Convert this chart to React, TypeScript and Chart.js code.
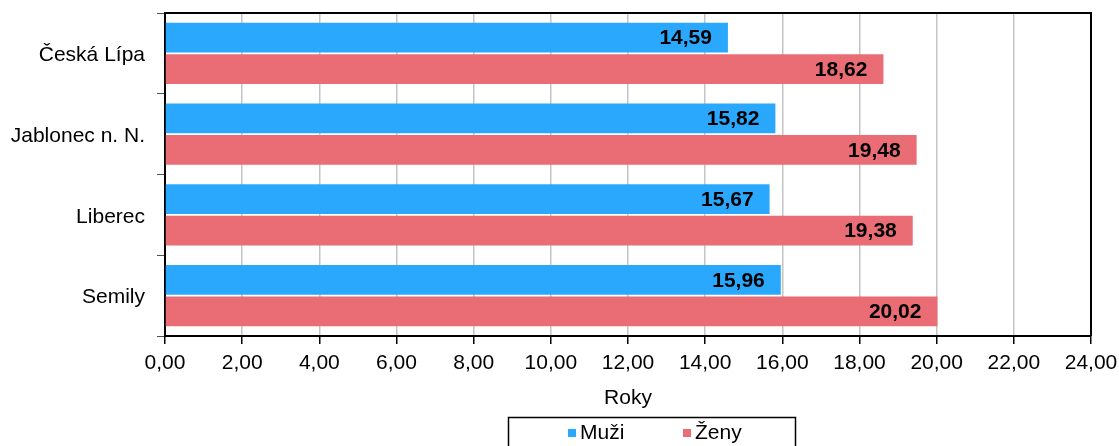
import React, { useEffect, useRef } from "react";
import { Chart, registerables } from "chart.js";

Chart.register(...registerables);

const categories = ["Česká Lípa", "Jablonec n. N.", "Liberec", "Semily"];
const muzi = [14.59, 15.82, 15.67, 15.96];
const zeny = [18.62, 19.48, 19.38, 20.02];
const seriesLabels = ["Muži", "Ženy"];
const seriesColors = ["#2AA8FE", "#EA6C74"];
const axisTitle = "Roky";
const xMin = 0;
const xMax = 24;
const xStep = 2;

const FONT = "'Liberation Sans', Arial, sans-serif";
const fmt = (v: number) => v.toFixed(2).replace(".", ",");

const valueLabels = {
  id: "valueLabels",
  afterDatasetsDraw(chart: any) {
    const ctx = chart.ctx;
    ctx.save();
    ctx.font = `bold 21px ${FONT}`;
    ctx.fillStyle = "#000";
    ctx.textAlign = "right";
    ctx.textBaseline = "middle";
    chart.data.datasets.forEach((ds: any, di: number) => {
      const meta = chart.getDatasetMeta(di);
      meta.data.forEach((bar: any, i: number) => {
        ctx.fillText(fmt(ds.data[i]), bar.x - 16, bar.y + 1);
      });
    });
    ctx.restore();
  },
};

const frame = {
  id: "frame",
  afterDraw(chart: any) {
    const { ctx, chartArea: a } = chart;
    ctx.save();
    ctx.strokeStyle = "#000";
    ctx.lineWidth = 2;
    ctx.beginPath();
    ctx.moveTo(a.left, a.top);
    ctx.lineTo(a.right, a.top);
    ctx.lineTo(a.right, a.bottom);
    ctx.stroke();
    ctx.restore();
  },
};

const boxLegend = {
  id: "boxLegend",
  afterDraw(chart: any) {
    const ctx = chart.ctx;
    ctx.save();
    ctx.strokeStyle = "#000";
    ctx.lineWidth = 1.5;
    ctx.strokeRect(508.5, 417.5, 287, 40);
    ctx.font = `21px ${FONT}`;
    ctx.textBaseline = "middle";
    ctx.textAlign = "left";
    const xs = [568, 683];
    chart.data.datasets.forEach((ds: any, i: number) => {
      ctx.fillStyle = ds.backgroundColor;
      ctx.fillRect(xs[i], 429, 8, 8);
      ctx.fillStyle = "#000";
      ctx.fillText(ds.label, xs[i] + 12, 433);
    });
    ctx.restore();
  },
};

export default function App() {
  const ref = useRef<HTMLCanvasElement>(null);
  useEffect(() => {
    if (!ref.current) return;
    const chart = new Chart(ref.current, {
      type: "bar",
      data: {
        labels: categories,
        datasets: [
          { label: seriesLabels[0], data: muzi, backgroundColor: seriesColors[0], categoryPercentage: 0.784, barPercentage: 0.94 },
          { label: seriesLabels[1], data: zeny, backgroundColor: seriesColors[1], categoryPercentage: 0.784, barPercentage: 0.94 },
        ],
      },
      options: {
        indexAxis: "y",
        animation: false,
        responsive: true,
        maintainAspectRatio: false,
        layout: { padding: { top: 13, right: 28, bottom: 30, left: 0 } },
        plugins: { legend: { display: false }, tooltip: { enabled: false }, title: { display: false } },
        scales: {
          x: {
            min: xMin,
            max: xMax,
            afterFit: (s: any) => { s.height = 80; s.paddingLeft = 0; s.paddingRight = 0; },
            ticks: { stepSize: xStep, callback: (v: any) => fmt(Number(v)), color: "#000", font: { family: FONT, size: 21 }, padding: 7, maxRotation: 0 },
            grid: { color: "#c4c4c4", lineWidth: 1.5, tickColor: "#000", tickLength: 8, drawTicks: true },
            border: { color: "#000", width: 2 },
            title: { display: true, text: axisTitle, color: "#000", font: { family: FONT, size: 21 }, padding: { top: 0, bottom: 5 } },
          },
          y: {
            afterFit: (s: any) => { s.width = 165; s.paddingTop = 0; s.paddingBottom = 0; },
            ticks: { color: "#000", font: { family: FONT, size: 21 }, padding: 12, labelOffset: 2 },
            grid: { offset: true, drawOnChartArea: false, tickColor: "#555", tickLength: 8 },
            border: { color: "#000", width: 2 },
          },
        },
      },
      plugins: [valueLabels, frame, boxLegend],
    });
    return () => chart.destroy();
  }, []);
  return (
    <div style={{ position: "fixed", left: 0, top: 0, width: 1119, height: 446, background: "#fff" }}>
      <canvas ref={ref} />
    </div>
  );
}
